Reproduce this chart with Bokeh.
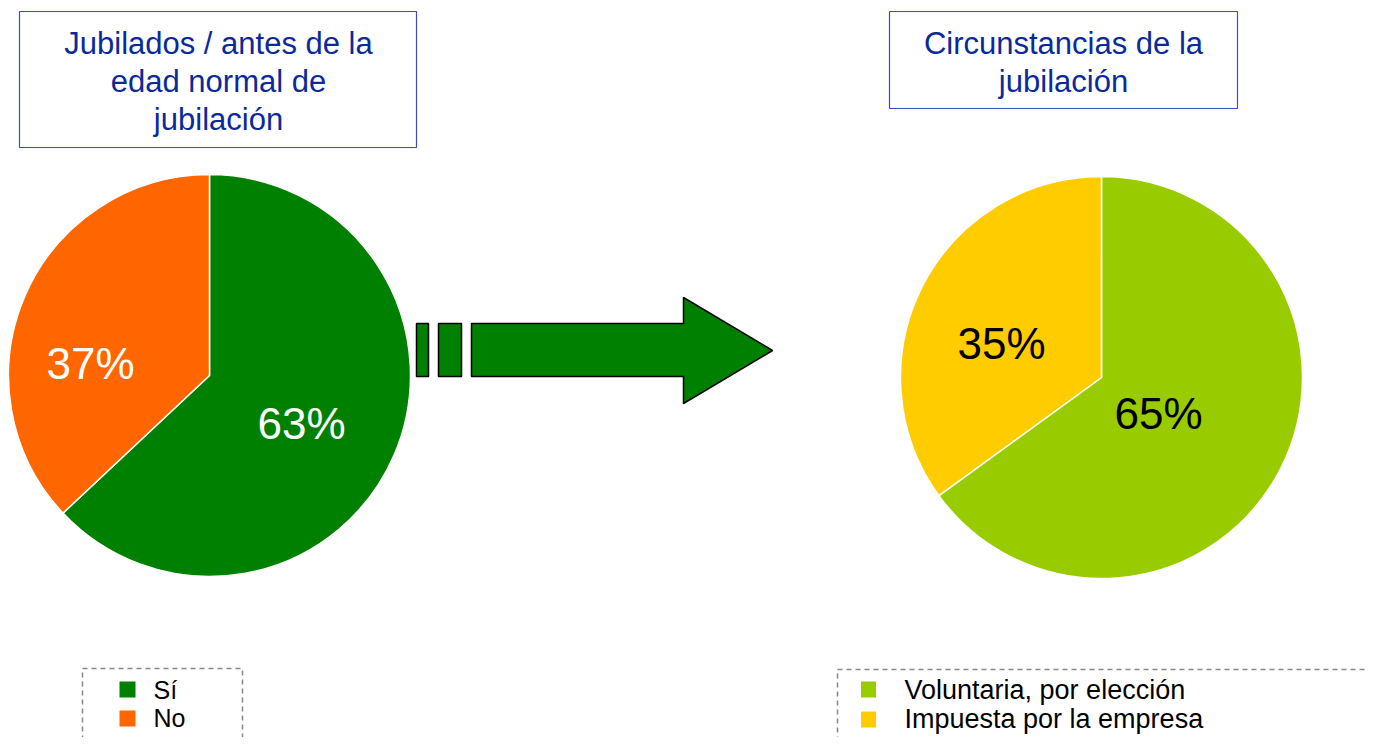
import math
from bokeh.plotting import figure
from bokeh.models import Range1d, ColumnDataSource
from bokeh.core.properties import value
from bokeh.embed import file_html
from bokeh.resources import INLINE

# ---------------- data ----------------
left_title = ["Jubilados / antes de la", "edad normal de", "jubilación"]
left_labels = ["Sí", "No"]
left_values = [63, 37]
left_colors = ["#008000", "#FF6600"]

right_title = ["Circunstancias de la", "jubilación"]
right_labels = ["Voluntaria, por elección", "Impuesta por la empresa"]
right_values = [65, 35]
right_colors = ["#99CC00", "#FFCC00"]

FONT = "Liberation Sans"
W, H = 1365, 737


def Y(sy):
    # convert a screen y (from top of the picture) to data y
    return H - sy


p = figure(width=W, height=H, output_backend="svg", toolbar_location=None,
           x_range=Range1d(0, W), y_range=Range1d(0, H),
           min_border=0, tools="")
p.axis.visible = False
p.grid.visible = False
p.outline_line_color = None
p.background_fill_color = "white"
p.border_fill_color = "white"


def pie(cx, cy, r, vals, colors, label_pos, label_color):
    total = float(sum(vals))
    starts, ends = [], []
    cum = 0.0
    for v in vals:
        starts.append(math.pi / 2 - 2 * math.pi * cum / total)
        cum += v
        ends.append(math.pi / 2 - 2 * math.pi * cum / total)
    src = ColumnDataSource(dict(x=[cx] * len(vals), y=[Y(cy)] * len(vals),
                                start=starts, end=ends, color=colors))
    p.wedge(x="x", y="y", radius=r, start_angle="start", end_angle="end",
            direction="clock", fill_color="color", line_color="white",
            line_width=1.5, source=src)
    txt = ["%d%%" % v for v in vals]
    p.text(x=[cx + dx for dx, dy in label_pos], y=[Y(cy + dy) for dx, dy in label_pos],
           text=txt, text_font=value(FONT), text_font_size="44px",
           text_color=label_color, text_align="center", text_baseline="middle")


pie(209, 375, 201, left_values, left_colors, [(92, 48), (-119, -12)], "white")
pie(1101, 377, 201, right_values, right_colors, [(57, 36), (-100, -34)], "black")

# ---------------- title boxes ----------------
p.quad(left=[19, 889], right=[416, 1237], top=[Y(11), Y(11)], bottom=[Y(147), Y(108)],
       fill_color="white", line_color="#3a4fb8", line_width=1.2)
p.text(x=[218] * len(left_title), y=[Y(43 + 38 * i) for i in range(len(left_title))],
       text=left_title, text_font=value(FONT), text_font_size="31px",
       text_color="#0a2a9a", text_align="center", text_baseline="middle")
p.text(x=[1063] * len(right_title), y=[Y(43 + 38 * i) for i in range(len(right_title))],
       text=right_title, text_font=value(FONT), text_font_size="31px",
       text_color="#0a2a9a", text_align="center", text_baseline="middle")

# ---------------- arrow ----------------
p.quad(left=[416, 438], right=[428, 461], top=[Y(323)] * 2, bottom=[Y(376)] * 2,
       fill_color="#008000", line_color="black", line_width=1.5)
ax = [471, 683, 683, 772, 683, 683, 471]
ay = [Y(v) for v in [323, 323, 297, 350, 403, 376, 376]]
p.patch(ax, ay, fill_color="#008000", line_color="black", line_width=1.5)

# ---------------- legends ----------------
p.quad(left=[82], right=[242], top=[Y(668)], bottom=[Y(760)],
       fill_color=None, line_color="#888888", line_width=1.5, line_dash="5 4")
p.quad(left=[837], right=[1385], top=[Y(669)], bottom=[Y(760)],
       fill_color=None, line_color="#888888", line_width=1.5, line_dash="5 4")

p.rect(x=[127] * 2, y=[Y(689), Y(718)], width=16, height=16,
       fill_color=left_colors, line_color=None)
p.text(x=[153] * 2, y=[Y(689), Y(717)], text=left_labels, text_font=value(FONT),
       text_font_size="25px", text_color="black", text_align="left",
       text_baseline="middle")

p.rect(x=[868] * 2, y=[Y(689), Y(719)], width=15, height=16,
       fill_color=right_colors, line_color=None)
p.text(x=[904] * 2, y=[Y(689), Y(718)], text=right_labels, text_font=value(FONT),
       text_font_size="27px", text_color="black", text_align="left",
       text_baseline="middle")

open("out.html", "w").write(file_html(p, INLINE))
